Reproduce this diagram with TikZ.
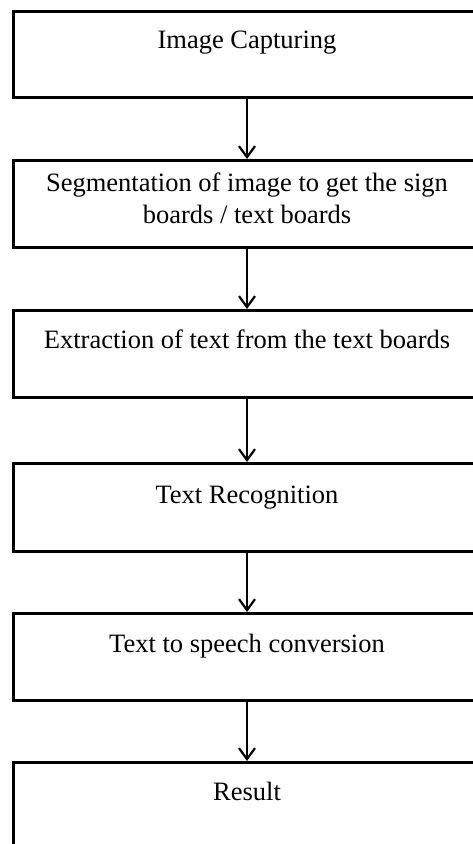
\documentclass[tikz,border=0pt]{standalone}
\usepackage{fontspec}
\setmainfont{Liberation Serif}
\usetikzlibrary{arrows.meta}
\begin{document}
\begin{tikzpicture}[x=1pt,y=-1pt,
  stagebox/.style={draw=black,line width=3pt,rectangle,minimum width=468pt,inner sep=0pt,anchor=north},
  label/.style={anchor=base,inner sep=0pt,font=\fontsize{26.5}{32}\selectfont,align=center},
  flow/.style={line width=2.2pt,-{Straight Barb[length=11pt,width=16pt,line width=2.2pt]}}]
\useasboundingbox (0,0) rectangle (473,844);
\clip (0,0) rectangle (473,844);
\node[stagebox,minimum height=86pt] (b1) at (247,10) {};
\node[stagebox,minimum height=87pt] (b2) at (247,159) {};
\node[stagebox,minimum height=87pt] (b3) at (247,309) {};
\node[stagebox,minimum height=88pt] (b4) at (247,462) {};
\node[stagebox,minimum height=87pt] (b5) at (247,612) {};
\node[stagebox,minimum height=87pt] (b6) at (247,761) {};
\node[label] (t1) at (247,48) {Image Capturing};
\node[label] (t2a) at (247,191) {Segmentation of image to get the sign};
\node[label] (t2b) at (247,223) {boards / text boards};
\node[label] (t3) at (247,348) {Extraction of text from the text boards};
\node[label] (t4) at (247,503) {Text Recognition};
\node[label] (t5) at (247,652) {Text to speech conversion};
\node[label] (t6) at (247,800) {Result};
\draw[flow] (b1.south) -- (b2.north);
\draw[flow] (b2.south) -- (b3.north);
\draw[flow] (b3.south) -- (b4.north);
\draw[flow] (b4.south) -- (b5.north);
\draw[flow] (b5.south) -- (b6.north);
\end{tikzpicture}
\end{document}
